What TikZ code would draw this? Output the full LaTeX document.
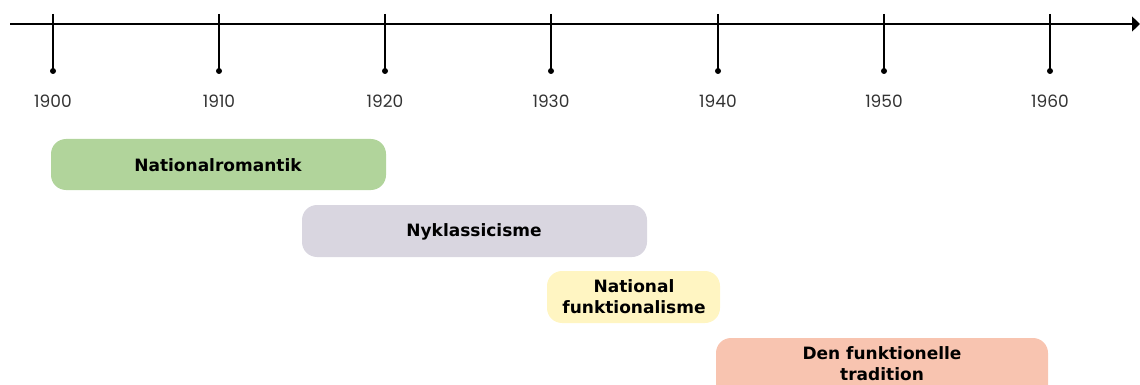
\documentclass[tikz,border=0pt]{standalone}
\usepackage{fontspec}
\setmainfont{Poppins}
\newfontfamily\boxfont{DejaVu Sans}
\usetikzlibrary{arrows.meta}
\definecolor{cgreen}{HTML}{B1D49B}
\definecolor{cgray}{HTML}{D9D6E0}
\definecolor{cyellow}{HTML}{FFF5C2}
\definecolor{csalmon}{HTML}{F8C4B0}
\definecolor{cyear}{HTML}{333333}
\tikzset{
  ptext/.style={font=\boxfont\bfseries\fontsize{17}{21}\selectfont, align=center, text=black},
  tick/.style={line width=1.1pt, black},
  year/.style={font=\fontsize{17}{20}\selectfont, text=cyear},
  dotmark/.style={circle, fill=black, inner sep=0pt, minimum size=6pt}
}
\begin{document}
\begin{tikzpicture}[x=1pt,y=-1pt]
\useasboundingbox (0,0) rectangle (1140,385);
\coordinate (axs) at (10,24);
\coordinate (axe) at (1140,24);
\draw[line width=1.2pt, -{Triangle[length=8pt,width=15pt]}] (axs) -- (axe);
\foreach \x/\y in {53/1900,219/1910,385/1920,551/1930,718/1940,884/1950,1050/1960}{
  \coordinate (t\y) at (\x,14);
  \node[dotmark] (d\y) at (\x,71) {};
  \draw[tick] (t\y) -- (d\y.center);
  \node[year] (y\y) at (\x,101) {\y};
}
\fill[cgreen, rounded corners=15pt] (51,139) rectangle (386,190);
\node[ptext] (p1) at (218,165) {Nationalromantik};
\fill[cgray, rounded corners=15pt] (302,205) rectangle (647,257);
\node[ptext] (p2) at (474,232) {Nyklassicisme};
\fill[cyellow, rounded corners=15pt] (547,271) rectangle (720,323);
\node[ptext] (p3) at (634,297) {National\\funktionalisme};
\fill[csalmon, rounded corners=15pt] (716,338) rectangle (1048,400);
\node[ptext] (p4) at (882,364) {Den funktionelle\\tradition};
\end{tikzpicture}
\end{document}
